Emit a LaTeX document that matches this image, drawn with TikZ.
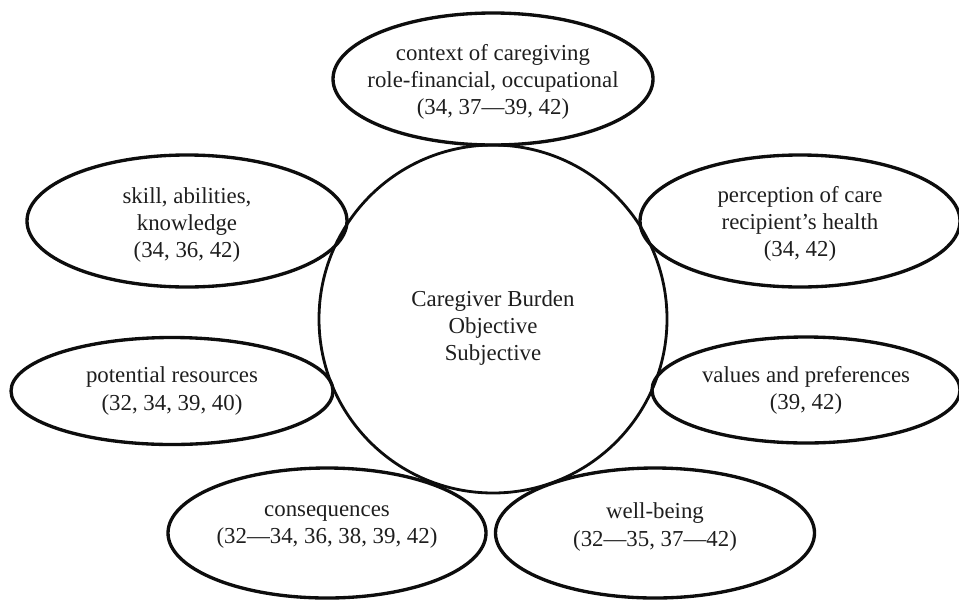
\documentclass[tikz,border=0pt]{standalone}
\usepackage{fontspec}
\setmainfont{Liberation Serif}
\usepackage{xcolor}
\usepackage{tikz}
\usetikzlibrary{shapes.geometric}
\definecolor{cbline}{HTML}{0D0D0D}
\definecolor{cbtext}{HTML}{1E1E1E}

\begin{document}
\begin{tikzpicture}[
    hub/.style={circle, draw=cbline, line width=1.6pt, inner sep=0pt, minimum size=6.96cm},
    bubble/.style 2 args={ellipse, draw=cbline, line width=1.9pt, inner sep=0pt, minimum width=#1, minimum height=#2},
    caption/.style={align=center, font=\fontsize{13}{15.5}\selectfont, text=cbtext, inner sep=0pt}
]

\useasboundingbox (0,0) rectangle (19.18,-11.98);

% Central burden circle
\node[hub, label={[caption, yshift=-0.18cm]center:{Caregiver Burden\\Objective\\Subjective}}] (burden) at (9.86,-6.38) {};

% Top
\node[bubble={6.4cm}{2.64cm}, label={[caption, yshift=-0.06cm]center:{context of caregiving\\role-financial, occupational\\(34, 37---39, 42)}}] (context) at (9.86,-1.58) {};

% Left side
\node[bubble={6.4cm}{2.64cm}, label={[caption, yshift=-0.08cm]center:{skill, abilities,\\knowledge\\(34, 36, 42)}}] (skill) at (3.74,-4.42) {};
\node[bubble={6.44cm}{2.14cm}, label={[caption]center:{potential resources\\(32, 34, 39, 40)}}] (resources) at (3.44,-7.82) {};

% Right side
\node[bubble={6.4cm}{2.64cm}, label={[caption, yshift=-0.06cm]center:{perception of care\\recipient’s health\\(34, 42)}}] (perception) at (16.0,-4.42) {};
\node[bubble={6.16cm}{2.12cm}, label={[caption]center:{values and preferences\\(39, 42)}}] (values) at (16.12,-7.8) {};

% Bottom
\node[bubble={6.36cm}{2.6cm}, label={[caption, yshift=0.12cm]center:{consequences\\(32---34, 36, 38, 39, 42)}}] (consequences) at (6.54,-10.66) {};
\node[bubble={6.38cm}{2.6cm}, label={[caption, yshift=0.12cm]center:{well-being\\(32---35, 37---42)}}] (wellbeing) at (13.1,-10.66) {};

\end{tikzpicture}
\end{document}
